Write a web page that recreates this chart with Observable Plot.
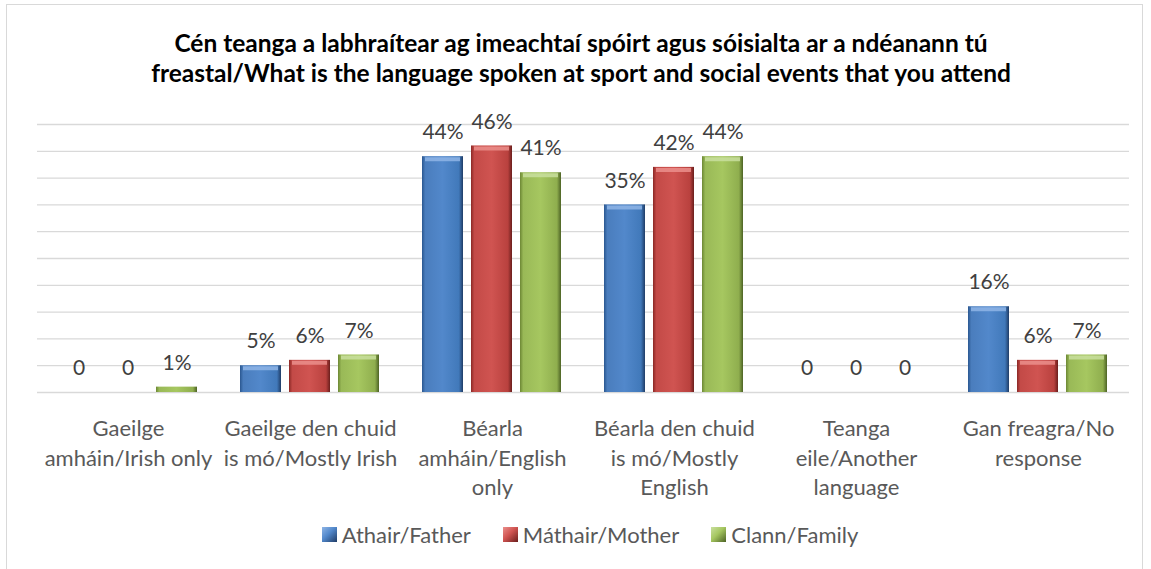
<!DOCTYPE html>
<html>
<head>
<meta charset="utf-8">
<script src="https://cdn.jsdelivr.net/npm/d3@7"></script>
<script src="https://cdn.jsdelivr.net/npm/@observablehq/plot@0.6"></script>
<style>
  html, body { margin: 0; padding: 0; background: #fff; }
  body { width: 1151px; height: 569px; overflow: hidden; position: relative; font-family: Lato, "Noto Sans", sans-serif; }
  #frame { position: absolute; left: 6px; top: 4px; width: 1137px; height: 620px; border: 1px solid #d9d9d9; box-sizing: border-box; }
  #title { position: absolute; left: 0; top: 28px; width: 1162px; text-align: center; font-weight: 700; font-size: 24.5px; line-height: 30px; color: #000; }
  #chart { position: absolute; left: 0; top: 100px; }
  #legend { position: absolute; left: 0; top: 519px; width: 1180px; display: flex; justify-content: center; font-size: 22px; line-height: 31px; color: #595959; }
  .item { display: flex; align-items: center; margin: 0 16px; }
  .sw { width: 15px; height: 15px; margin-right: 5px; box-sizing: border-box; }
</style>
</head>
<body>
<div id="frame"></div>
<div id="title">Cén teanga a labhraítear ag imeachtaí spóirt agus sóisialta ar a ndéanann tú<br>freastal/What is the language spoken at sport and social events that you attend</div>
<div id="chart"></div>
<div id="legend"></div>
<script>
// ---- data ----
const categories = [
  "Gaeilge amháin/Irish only",
  "Gaeilge den chuid is mó/Mostly Irish",
  "Béarla amháin/English only",
  "Béarla den chuid is mó/Mostly English",
  "Teanga eile/Another language",
  "Gan freagra/No response"
];
const categoryLabels = [
  "Gaeilge\namháin/Irish only",
  "Gaeilge den chuid\nis mó/Mostly Irish",
  "Béarla\namháin/English\nonly",
  "Béarla den chuid\nis mó/Mostly\nEnglish",
  "Teanga\neile/Another\nlanguage",
  "Gan freagra/No\nresponse"
];
const series = ["Athair/Father", "Máthair/Mother", "Clann/Family"];
const father = [0, 5, 44, 35, 0, 16];
const mother = [0, 6, 46, 42, 0, 6];
const family = [1, 7, 41, 44, 0, 7];
const yTicks = [0, 5, 10, 15, 20, 25, 30, 35, 40, 45, 50];

// ---- styles ----
const gradIds = ["gBlue", "gRed", "gGreen"];
const gradStops = [
  ["#2a5790", "#4a7dbd", "#5288cb", "#4179ba", "#1f3c66"],
  ["#8a2825", "#c34a47", "#d05451", "#b9413e", "#6a1e1c"],
  ["#6c8734", "#99b957", "#a6c760", "#8fae4e", "#4d6325"]
];
const bevel = ["#8fb5e6", "#eb8f8c", "#c9df9f"];

const values = [father, mother, family];
const data = [];
categories.forEach((c, i) => series.forEach((s, j) => data.push({category: c, series: s, value: values[j][i]})));
const labelOf = new Map(categories.map((c, i) => [c, categoryLabels[i]]));

const plot = Plot.plot({
  width: 1151,
  height: 400,
  marginTop: 24,
  marginBottom: 108,
  marginLeft: 36,
  marginRight: 21,
  style: {fontFamily: "Lato, 'Noto Sans', sans-serif", background: "transparent"},
  fx: {domain: categories, paddingInner: 0, paddingOuter: 0, axis: null},
  x: {domain: series, paddingInner: 0.16, paddingOuter: 0.403, axis: null},
  y: {domain: [0, 50], axis: null},
  color: {domain: series, range: gradIds.map(id => `url(#${id})`)},
  marks: [
    Plot.ruleY(yTicks, {y: d => d, stroke: "#d9d9d9", strokeWidth: 1.3}),
    Plot.barY(data, {fx: "category", x: "series", y: "value", fill: "series"}),
    ...series.map((s, j) => Plot.tickY(data.filter(d => d.series === s && d.value > 2), {
      fx: "category", x: "series", y: "value", stroke: bevel[j], strokeWidth: 4, dy: 2.5, inset: 3, strokeOpacity: 0.85
    })),
    Plot.text(data, {
      fx: "category", x: "series", y: "value",
      text: d => d.value === 0 ? "0" : d.value + "%",
      dy: -24, lineAnchor: "middle", fontSize: 21, fill: "#404040"
    }),
    Plot.axisFx({
      anchor: "bottom", tickSize: 0, tickPadding: 23, fontSize: 22, lineHeight: 1.34,
      fill: "#595959", label: null, tickFormat: d => labelOf.get(d)
    })
  ]
});

// gradients
const svg = d3.select(plot);
const defs = svg.insert("defs", ":first-child");
gradIds.forEach((id, j) => {
  const g = defs.append("linearGradient").attr("id", id).attr("x1", 0).attr("x2", 1).attr("y1", 0).attr("y2", 0);
  [0, 0.08, 0.5, 0.9, 1].forEach((o, k) => g.append("stop").attr("offset", o).attr("stop-color", gradStops[j][k]));
});
document.getElementById("chart").appendChild(plot);

// legend
const legend = d3.select("#legend");
series.forEach((s, j) => {
  const it = legend.append("div").attr("class", "item");
  it.append("div").attr("class", "sw")
    .style("background", `linear-gradient(135deg, ${bevel[j]} 0%, ${gradStops[j][2]} 45%, ${gradStops[j][4]} 100%)`);
  it.append("span").text(s);
});
</script>
</body>
</html>
